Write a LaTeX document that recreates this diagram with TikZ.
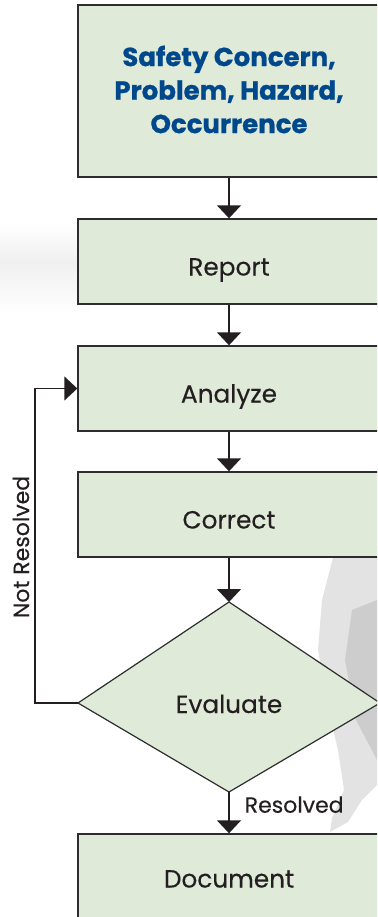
\documentclass[tikz,border=0pt]{standalone}
\usepackage{fontspec}
\setmainfont{Poppins}[UprightFeatures={FakeBold=0.3}]
\newfontfamily\titlefont{Poppins}[BoldFeatures={FakeBold=0.8}]
\usetikzlibrary{arrows.meta}
\definecolor{boxfill}{RGB}{223,234,217}
\definecolor{boxdraw}{RGB}{45,45,45}
\definecolor{titleblue}{RGB}{0,72,140}
\definecolor{txt}{RGB}{35,31,32}
\tikzset{
  stepbox/.style={draw=boxdraw, line width=1.4pt, fill=boxfill, minimum width=302pt, inner sep=0pt, text=txt, font=\fontsize{24.8}{28}\selectfont, text height=28pt, text depth=0pt},
  flow/.style={draw=txt, line width=1.5pt, -{Triangle[width=24pt,length=13pt]}},
  lbl/.style={text=txt, font=\fontsize{22}{26}\selectfont, inner sep=0pt}
}
\begin{document}
\begin{tikzpicture}[x=1pt,y=-1pt]
\useasboundingbox (0,0) rectangle (377,917);
\clip (0,0) rectangle (377,917);
% faint background photo remnants
\shade[top color=white, bottom color=black!6] (0,222) rectangle (90,262);
\shade[top color=black!6, bottom color=white] (0,262) rectangle (90,314);
\fill[black!22, opacity=0.5] (377,545) -- (335,550) -- (322,600) -- (318,650) -- (326,700) -- (338,750) -- (344,790) -- (332,818) -- (330,832) -- (348,822) -- (362,800) -- (377,785) -- cycle;
\fill[black!35, opacity=0.35] (377,600) -- (352,610) -- (345,660) -- (356,720) -- (377,760) -- cycle;
% boxes
\node[stepbox, minimum height=172pt, text height=, text depth=] (concern) at (229,91) {};
\node[text=titleblue, font=\titlefont\fontsize{26}{33.5}\selectfont\bfseries, align=center, inner sep=0pt] (title) at (229,89.5) {Safety Concern,\\Problem, Hazard,\\Occurrence};
\node[stepbox, minimum height=85pt] (report) at (229,261.5) {Report};
\node[stepbox, minimum height=85pt] (analyze) at (229,388.5) {Analyze};
\node[stepbox, minimum height=85pt] (correct) at (229,514.5) {Correct};
\coordinate (dtop) at (229,602);
\coordinate (dleft) at (78,703);
\coordinate (dright) at (380,703);
\coordinate (dbot) at (229,792);
\draw[draw=boxdraw, line width=1.2pt, fill=boxfill] (dtop) -- (dright) -- (dbot) -- (dleft) -- cycle;
\node[text=txt, font=\fontsize{24.8}{28}\selectfont, inner sep=0pt, text height=28pt, text depth=0pt] (evaluate) at (229,699) {Evaluate};
\node[stepbox, minimum height=85pt, text height=22pt] (document) at (229,876.5) {Document};
% connectors
\draw[flow] (concern) -- (report);
\draw[flow] (report) -- (analyze);
\draw[flow] (analyze) -- (correct);
\draw[flow] (correct) -- (dtop);
\draw[flow] (dbot) -- node[lbl, anchor=west, xshift=15pt, yshift=8pt] (res) {Resolved} (document);
\coordinate (loop) at (35,703);
\draw[flow] (dleft) -- (loop) |- (analyze.west);
\node[lbl, rotate=90] (notres) at (21,547) {Not Resolved};
\end{tikzpicture}
\end{document}
